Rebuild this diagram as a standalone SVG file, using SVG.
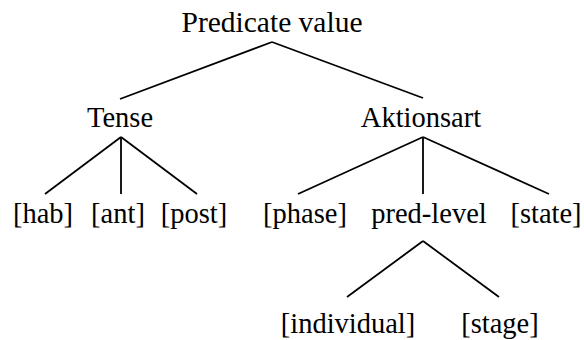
<svg xmlns="http://www.w3.org/2000/svg" width="584" height="340" viewBox="0 0 584 340">
<style>
.t{font-family:'Liberation Serif','Times New Roman','DejaVu Serif',serif;font-size:28.5px;fill:#000;text-anchor:middle}
.big{font-size:29.5px}
line{stroke:#000;stroke-width:1.8;stroke-linecap:butt}
</style>
<rect width="584" height="340" fill="#fff"/>
<g id="connectors">
<line x1="272" y1="42" x2="120" y2="99"/>
<line x1="272" y1="42" x2="423" y2="98"/>
<line x1="121" y1="137" x2="45" y2="194"/>
<line x1="121" y1="137" x2="121" y2="194"/>
<line x1="121" y1="137" x2="197" y2="194"/>
<line x1="423" y1="137" x2="298" y2="194"/>
<line x1="423" y1="137" x2="423" y2="194"/>
<line x1="423" y1="137" x2="549" y2="194"/>
<line x1="423" y1="241" x2="347" y2="297"/>
<line x1="423" y1="241" x2="499" y2="297"/>
</g>
<g class="t">
<g id="root"><text class="big" x="272" y="32">Predicate value</text></g>
<g id="tense"><text x="120" y="127">Tense</text></g>
<g id="aktionsart"><text x="421" y="127">Aktionsart</text></g>
<g id="hab"><text x="43" y="223">[hab]</text></g>
<g id="ant"><text x="118" y="223">[ant]</text></g>
<g id="post"><text x="194" y="223">[post]</text></g>
<g id="phase"><text x="305" y="223">[phase]</text></g>
<g id="pred-level"><text x="429" y="223">pred-level</text></g>
<g id="state"><text x="546" y="223">[state]</text></g>
<g id="individual"><text x="348" y="333">[individual]</text></g>
<g id="stage"><text x="500" y="333">[stage]</text></g>
</g>
</svg>
